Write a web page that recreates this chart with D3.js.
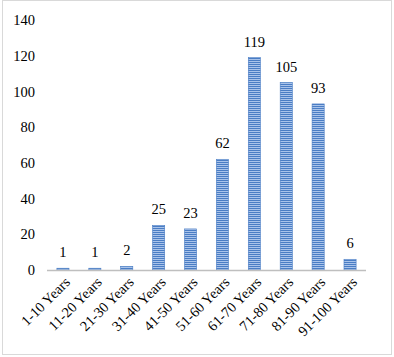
<!DOCTYPE html>
<html><head><meta charset="utf-8">
<script src="https://cdn.jsdelivr.net/npm/d3@7"></script>
<style>body{margin:0;background:#fff}svg{display:block}svg text{font-family:"Liberation Serif","Times New Roman",serif}</style>
</head><body>
<script>
const categories = ["1-10 Years","11-20 Years","21-30 Years","31-40 Years","41-50 Years","51-60 Years","61-70 Years","71-80 Years","81-90 Years","91-100 Years"];
const values = [1,1,2,25,23,62,119,105,93,6];
const yTicks = [0,20,40,60,80,100,120,140];

const W=394,H=357;
const svg=d3.select("body").append("svg").attr("width",W).attr("height",H);
const defs=svg.append("defs");
const pat=defs.append("pattern").attr("id","stripes").attr("patternUnits","userSpaceOnUse").attr("width",4).attr("height",2);
pat.append("rect").attr("width",4).attr("height",2).attr("fill","#a9c3ea");
pat.append("rect").attr("width",4).attr("height",1).attr("fill","#4a7dc4");

svg.append("rect").attr("x",2.5).attr("y",0.5).attr("width",389).attr("height",354).attr("fill","#fff").attr("stroke","#d9d9d9");

const x=d3.scaleBand().domain(categories).range([47,366]).paddingInner(0.62).paddingOuter(0.31);
const y=d3.scaleLinear().domain([0,140]).range([270,20]);
const fs=14.5;

const ya=svg.append("g").attr("transform","translate(47,0)").call(d3.axisLeft(y).tickValues(yTicks).tickSize(0).tickPadding(12));
ya.select(".domain").remove();
ya.selectAll("text").attr("font-size",fs).attr("fill","#000");

svg.selectAll("rect.bar").data(values).join("rect").attr("class","bar")
 .attr("x",(d,i)=>x(categories[i])).attr("width",x.bandwidth())
 .attr("y",d=>y(d)).attr("height",d=>y(0)-y(d))
 .attr("fill","url(#stripes)").attr("stroke","#4a7dc4").attr("stroke-width",0.6);

svg.append("line").attr("x1",47).attr("x2",366).attr("y1",y(0)+0.5).attr("y2",y(0)+0.5).attr("stroke","#bfbfbf").attr("stroke-width",1.5);

svg.selectAll("text.lbl").data(values).join("text").attr("class","lbl")
 .attr("x",(d,i)=>x(categories[i])+x.bandwidth()/2).attr("y",d=>y(d)-11)
 .attr("text-anchor","middle").attr("font-size",fs).text(d=>d);

const xa=svg.append("g").attr("transform",`translate(0,${y(0)})`).call(d3.axisBottom(x).tickSize(0).tickPadding(0));
xa.select(".domain").remove();
xa.selectAll("text").attr("font-size",fs).attr("fill","#000")
 .attr("text-anchor","end").attr("dy",0).attr("y",0)
 .attr("transform","translate(8,13) rotate(-45)");
</script>
</body></html>
